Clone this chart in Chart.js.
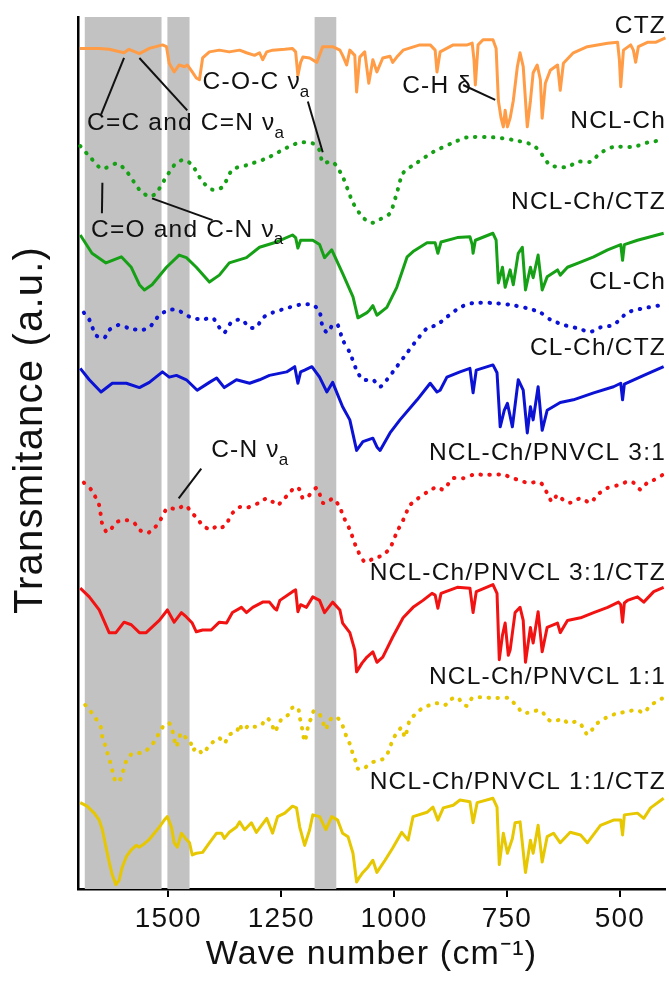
<!DOCTYPE html>
<html><head><meta charset="utf-8">
<script src="https://cdn.jsdelivr.net/npm/chart.js@4"></script>
<style>html,body{margin:0;padding:0;background:#fff}#wrap{width:669px;height:983px;position:relative}</style>
</head><body><div id="wrap"><canvas id="c"></canvas></div>
<script>
// ---------- data (wavenumber cm-1, transmittance a.u. with stacking offset) ----------
const xTicks = [500, 750, 1000, 1250, 1500];
const bands = [[1685, 1515], [1502, 1453], [1176, 1128]];

const CTZ = [[1696,96.4],[1653,96.4],[1631,96.3],[1598,95.9],[1587,96.3],[1564,95.8],[1542,96.4],[1513,96.8],[1504,96.6],[1498,94.7],[1487,93.7],[1476,94.5],[1464,94.3],[1458,94.5],[1447,93.7],[1438,93.0],[1431,92.8],[1424,95.3],[1409,96.0],[1387,96.2],[1365,96.0],[1342,96.2],[1327,95.9],[1309,95.6],[1298,95.9],[1291,95.1],[1282,96.0],[1269,96.2],[1242,96.3],[1225,96.4],[1218,96.0],[1213,93.3],[1207,94.8],[1202,95.4],[1187,95.3],[1171,94.8],[1158,96.6],[1136,96.6],[1120,96.2],[1114,95.6],[1105,94.5],[1098,96.2],[1087,95.6],[1083,91.4],[1076,95.4],[1065,96.0],[1056,92.4],[1047,95.1],[1038,93.7],[1025,95.3],[1009,95.5],[1003,94.8],[994,95.4],[980,96.2],[943,96.8],[920,96.8],[909,96.2],[905,93.7],[898,96.0],[869,96.8],[838,96.8],[827,97.0],[823,95.1],[820,92.2],[814,96.8],[803,97.4],[781,97.4],[774,96.4],[769,90.4],[763,88.4],[758,87.4],[754,89.3],[749,87.4],[743,88.4],[736,90.4],[727,94.3],[721,95.9],[714,94.3],[705,87.4],[698,90.4],[692,93.6],[683,94.5],[676,92.8],[672,88.4],[665,92.4],[654,93.9],[638,94.5],[632,91.6],[625,94.7],[603,95.9],[572,96.6],[527,97.0],[505,97.1],[501,95.1],[498,92.0],[492,96.2],[476,96.8],[470,96.2],[465,94.8],[459,96.6],[439,97.1],[421,97.1],[399,97.6]];

const NCL_Ch = [[1695,85.2],[1671,83.8],[1647,82.6],[1613,83.2],[1591,82.2],[1564,80.2],[1542,79.4],[1527,79.8],[1504,81.7],[1482,83.3],[1464,83.6],[1447,83.0],[1424,81.1],[1402,80.2],[1380,80.5],[1358,82.5],[1327,83.0],[1282,83.8],[1238,85.0],[1209,85.6],[1180,85.5],[1165,84.7],[1158,83.3],[1136,83.4],[1114,81.7],[1091,78.7],[1069,77.0],[1049,76.4],[1031,76.8],[1009,77.5],[994,79.8],[980,82.1],[949,83.3],[914,84.5],[869,85.6],[838,86.2],[781,86.2],[736,85.9],[692,85.3],[672,84.2],[654,83.0],[616,82.8],[594,83.4],[565,83.4],[543,84.4],[514,85.1],[470,85.1],[439,85.6],[403,85.9]];

const NCL_Ch_CTZ = [[1695,75.0],[1669,72.9],[1638,71.8],[1604,72.5],[1582,71.3],[1564,69.3],[1553,68.7],[1536,69.3],[1504,71.3],[1476,72.7],[1460,72.4],[1438,71.3],[1409,69.6],[1387,70.4],[1365,71.8],[1327,72.4],[1298,73.6],[1260,74.2],[1225,75.0],[1218,74.7],[1213,73.5],[1207,74.4],[1180,74.4],[1165,73.9],[1154,72.4],[1138,73.3],[1114,70.6],[1091,67.9],[1080,65.5],[1060,66.1],[1054,66.4],[1047,66.9],[1038,65.8],[1016,66.7],[994,69.0],[971,72.5],[958,73.1],[927,74.1],[909,74.1],[903,72.9],[896,74.2],[860,74.7],[832,74.8],[827,73.9],[825,72.9],[820,74.4],[781,75.2],[774,74.4],[769,69.5],[760,71.3],[754,69.0],[743,71.0],[736,69.3],[725,72.9],[716,73.6],[709,68.7],[698,71.3],[692,70.1],[681,72.7],[672,68.7],[661,70.2],[638,71.0],[632,70.4],[616,71.3],[587,71.9],[558,72.5],[527,73.3],[498,73.9],[494,72.1],[490,73.9],[461,74.4],[432,74.8],[403,75.2]];

const CL_Ch = [[1687,66.1],[1675,65.3],[1660,63.5],[1642,63.2],[1631,64.1],[1609,64.7],[1587,64.3],[1560,64.1],[1542,64.4],[1520,65.8],[1498,66.4],[1480,66.4],[1460,65.8],[1447,65.5],[1424,65.3],[1402,65.5],[1387,64.4],[1376,63.8],[1360,65.0],[1338,65.3],[1320,64.4],[1305,64.4],[1291,65.5],[1269,66.1],[1238,66.6],[1209,67.0],[1180,67.0],[1165,66.2],[1158,64.4],[1147,63.8],[1136,64.7],[1125,64.7],[1114,63.0],[1098,61.5],[1083,59.5],[1069,58.4],[1047,58.4],[1031,57.6],[1016,58.4],[994,59.9],[971,61.5],[949,63.0],[927,64.3],[905,64.7],[883,65.6],[854,66.7],[825,67.2],[781,67.2],[743,67.0],[705,66.6],[676,66.1],[654,65.3],[625,64.7],[594,64.3],[565,63.9],[543,64.4],[514,64.7],[483,66.1],[447,66.6],[403,67.0]];

const CL_Ch_CTZ = [[1695,59.7],[1675,58.4],[1649,57.0],[1624,58.0],[1593,58.0],[1564,57.5],[1542,58.1],[1513,59.3],[1498,58.7],[1482,58.9],[1460,58.4],[1436,57.2],[1409,58.1],[1393,58.6],[1376,57.5],[1349,58.4],[1320,58.0],[1298,58.4],[1276,58.9],[1238,59.3],[1220,59.9],[1213,58.0],[1207,59.3],[1198,59.5],[1182,59.9],[1165,58.7],[1149,57.0],[1136,58.1],[1114,55.3],[1098,53.8],[1083,50.3],[1069,51.3],[1047,51.7],[1038,50.7],[1031,50.3],[1009,52.3],[987,53.8],[949,56.1],[920,58.0],[905,57.0],[898,57.2],[883,58.7],[854,59.3],[832,59.7],[825,56.9],[818,59.5],[781,60.1],[772,59.2],[765,53.0],[756,54.9],[749,55.7],[738,53.0],[725,58.4],[714,57.2],[705,52.3],[698,55.3],[692,53.8],[681,57.6],[672,52.6],[661,54.9],[632,55.8],[603,56.1],[558,56.9],[514,57.6],[498,58.0],[494,56.1],[490,57.9],[447,58.9],[403,59.9]];

const PNVCL31 = [[1687,46.6],[1671,45.8],[1653,44.0],[1647,42.0],[1635,40.9],[1613,42.1],[1593,42.3],[1576,42.0],[1564,41.2],[1547,40.8],[1531,41.4],[1520,42.1],[1502,43.7],[1487,43.6],[1476,43.7],[1462,44.0],[1449,43.2],[1436,42.5],[1424,41.7],[1405,41.2],[1391,41.7],[1380,41.5],[1369,42.1],[1358,43.1],[1342,43.8],[1327,43.7],[1313,44.0],[1298,44.3],[1282,44.8],[1269,44.4],[1258,44.0],[1247,44.6],[1231,45.4],[1220,46.1],[1209,45.8],[1202,44.8],[1191,45.0],[1171,46.0],[1158,44.3],[1147,44.3],[1136,44.8],[1120,43.8],[1114,42.9],[1098,41.2],[1083,39.1],[1065,37.5],[1049,37.8],[1025,38.3],[1009,39.1],[994,40.9],[980,42.3],[965,44.0],[947,44.8],[927,45.5],[905,46.1],[891,45.8],[869,47.1],[847,47.1],[825,47.5],[794,47.5],[758,47.5],[736,47.1],[705,46.6],[676,46.6],[661,45.4],[650,44.4],[638,45.2],[625,44.6],[610,44.3],[587,44.8],[565,44.3],[550,45.2],[527,46.0],[505,46.3],[483,46.7],[470,46.6],[454,45.8],[439,46.6],[425,46.9],[405,47.5]];

const PNVCL31_CTZ = [[1695,34.5],[1675,33.5],[1653,32.0],[1631,29.4],[1616,29.4],[1598,30.6],[1582,30.3],[1564,29.4],[1549,29.4],[1520,30.8],[1502,32.0],[1487,30.6],[1471,31.7],[1460,31.2],[1447,30.5],[1438,29.5],[1424,29.7],[1405,29.7],[1387,30.6],[1371,30.5],[1358,31.7],[1338,32.3],[1327,31.7],[1313,32.3],[1291,32.9],[1276,32.9],[1265,32.2],[1260,32.0],[1253,33.1],[1225,34.1],[1218,34.3],[1213,31.8],[1207,32.6],[1194,32.3],[1180,33.5],[1165,33.1],[1154,31.7],[1136,32.9],[1120,32.0],[1114,30.5],[1098,29.4],[1087,27.4],[1083,24.9],[1071,25.9],[1060,26.6],[1047,27.2],[1038,26.0],[1025,26.6],[1003,28.9],[980,31.1],[958,32.3],[936,33.1],[916,33.9],[909,33.7],[903,32.2],[896,33.9],[860,34.6],[832,34.5],[825,31.7],[818,34.1],[781,34.9],[772,33.9],[767,26.3],[760,29.1],[754,30.5],[747,26.8],[743,27.4],[732,31.7],[721,32.3],[714,30.8],[709,26.0],[698,30.0],[692,28.2],[681,31.8],[672,27.2],[661,30.0],[638,30.5],[632,29.4],[616,30.8],[587,31.1],[558,31.7],[527,32.3],[503,32.9],[498,32.6],[494,30.6],[490,32.8],[483,33.1],[461,33.5],[447,32.9],[425,34.1],[403,34.6]];

const PNVCL11 = [[1684,21.1],[1671,20.3],[1660,19.5],[1649,18.5],[1646,17.4],[1640,16.5],[1635,15.6],[1629,14.6],[1624,13.6],[1620,12.7],[1611,12.2],[1602,13.1],[1598,14.0],[1591,14.9],[1578,15.6],[1558,15.6],[1542,16.2],[1531,16.9],[1520,17.9],[1509,18.8],[1498,19.0],[1491,18.2],[1487,17.2],[1482,16.3],[1478,17.0],[1471,17.9],[1462,17.4],[1451,16.9],[1447,15.9],[1436,16.2],[1424,15.5],[1413,16.2],[1400,16.9],[1387,17.3],[1376,16.7],[1365,17.7],[1349,18.0],[1342,18.9],[1336,18.2],[1320,18.8],[1309,18.6],[1294,18.8],[1282,19.6],[1271,19.0],[1265,18.0],[1258,18.6],[1249,19.5],[1234,20.0],[1225,20.8],[1213,20.8],[1209,19.7],[1205,18.8],[1202,17.9],[1198,16.9],[1194,17.7],[1189,19.0],[1182,19.7],[1178,20.4],[1167,20.2],[1158,19.2],[1151,18.3],[1145,19.2],[1131,19.8],[1118,19.2],[1111,18.3],[1105,17.4],[1096,16.4],[1091,15.4],[1083,14.4],[1080,13.8],[1067,13.8],[1054,14.4],[1038,14.7],[1025,14.9],[1013,15.7],[1003,17.1],[994,17.9],[983,18.5],[976,17.4],[965,19.4],[949,20.2],[936,20.8],[920,21.1],[905,21.3],[887,21.1],[876,21.7],[860,22.0],[849,21.3],[838,21.0],[827,21.9],[809,22.0],[781,21.9],[747,21.9],[736,21.4],[725,20.8],[716,20.2],[705,20.2],[694,20.3],[681,20.5],[670,20.2],[661,19.5],[647,19.2],[627,19.5],[614,19.0],[594,19.2],[581,18.5],[572,17.7],[561,18.3],[550,19.0],[532,19.6],[514,20.0],[498,20.2],[481,20.4],[461,20.5],[447,20.2],[432,21.1],[421,21.4],[405,21.9]];

const PNVCL11_CTZ = [[1695,9.9],[1680,9.5],[1664,8.7],[1653,7.9],[1646,6.8],[1638,4.8],[1631,3.1],[1624,1.6],[1616,0.5],[1609,1.0],[1602,2.5],[1593,3.7],[1582,4.5],[1571,5.0],[1564,4.8],[1553,5.2],[1542,5.7],[1531,6.4],[1520,7.1],[1509,7.9],[1502,8.3],[1493,7.1],[1487,5.3],[1480,4.8],[1471,6.4],[1462,5.8],[1453,5.3],[1447,3.9],[1438,4.1],[1424,4.2],[1409,5.3],[1393,6.4],[1382,6.4],[1376,5.8],[1365,6.5],[1349,7.1],[1342,7.7],[1331,6.8],[1316,7.6],[1305,6.5],[1282,8.1],[1269,6.4],[1258,8.3],[1242,8.7],[1225,9.5],[1216,9.3],[1209,7.1],[1198,5.0],[1187,6.8],[1180,8.5],[1165,8.3],[1151,6.8],[1138,8.3],[1125,7.9],[1114,6.4],[1102,6.0],[1091,4.1],[1083,0.8],[1076,1.4],[1069,1.9],[1058,2.5],[1047,3.3],[1038,1.9],[1020,3.3],[1003,4.7],[983,6.5],[969,5.6],[958,8.3],[927,8.8],[914,9.4],[903,7.9],[891,9.3],[869,9.6],[854,10.2],[832,10.0],[825,7.6],[816,9.9],[781,10.4],[772,9.4],[767,2.8],[758,6.4],[749,4.1],[738,5.8],[732,7.6],[721,7.7],[709,1.9],[698,5.6],[692,4.1],[681,7.3],[672,3.1],[661,6.0],[647,6.4],[632,5.3],[610,6.5],[587,6.2],[572,5.3],[543,7.3],[514,7.9],[498,7.9],[494,6.2],[490,8.5],[461,8.7],[447,8.1],[432,9.3],[403,10.4]];

const seriesNames = ['CTZ', 'NCL-Ch', 'NCL-Ch/CTZ', 'CL-Ch', 'CL-Ch/CTZ', 'NCL-Ch/PNVCL 3:1', 'NCL-Ch/PNVCL 3:1/CTZ', 'NCL-Ch/PNVCL 1:1', 'NCL-Ch/PNVCL 1:1/CTZ'];
const seriesData = [CTZ, NCL_Ch, NCL_Ch_CTZ, CL_Ch, CL_Ch_CTZ, PNVCL31, PNVCL31_CTZ, PNVCL11, PNVCL11_CTZ];
const labelLevels = [98.9, 88.0, 78.8, 69.6, 62.0, 50.0, 36.2, 24.3, 12.2];

// annotations: text, subscript, wavenumber of left edge, level
const notes = [
  ['C-H δ', '', 982, 92.1],
  ['C-O-C ν', 'a', 1424, 92.5],
  ['C=C and C=N ν', 'a', 1680, 87.8],
  ['C=O and C-N ν', 'a', 1671, 75.6],
  ['C-N ν', 'a', 1405, 50.3]
];
const leaders = [
  [1598, 95.3, 1649, 88.8],
  [1564, 95.3, 1458, 89.3],
  [1191, 90.3, 1158, 84.5],
  [847, 92.2, 776, 90.5],
  [1646, 81.0, 1647, 77.5],
  [1536, 79.2, 1402, 76.7],
  [1427, 48.2, 1477, 44.8]
];

// ---------- styling ----------
const FAM = "'Liberation Sans', Arial, sans-serif";
const colors = ['#ff9c45', '#16a016', '#16a016', '#0b12d4', '#0b12d4', '#f21212', '#f21212', '#e6c700', '#e6c700'];
const dotted = [false, true, false, true, false, true, false, true, false];
const SPACING = '1.2px';

const spacingPlugin = {
  id: 'spacing',
  beforeUpdate(chart) { chart.ctx.letterSpacing = SPACING; },
  beforeDraw(chart) { chart.ctx.letterSpacing = SPACING; }
};

const bandPlugin = {
  id: 'bands',
  beforeDatasetsDraw(chart) {
    const {ctx, chartArea: a, scales: {x}} = chart;
    ctx.save();
    ctx.fillStyle = '#c2c2c2';
    bands.forEach(b => {
      const p1 = x.getPixelForValue(b[0]), p2 = x.getPixelForValue(b[1]);
      ctx.fillRect(Math.min(p1, p2), a.top, Math.abs(p2 - p1), a.bottom - a.top);
    });
    ctx.restore();
  }
};

const textPlugin = {
  id: 'texts',
  afterDatasetsDraw(chart) {
    const {ctx, scales: {x, y}} = chart;
    ctx.save();
    ctx.letterSpacing = SPACING;
    ctx.fillStyle = '#111';
    ctx.font = '24.5px ' + FAM;
    ctx.textBaseline = 'middle';
    ctx.textAlign = 'right';
    seriesNames.forEach((n, i) => ctx.fillText(n, x.getPixelForValue(400) + 1, y.getPixelForValue(labelLevels[i])));
    ctx.textAlign = 'left';
    notes.forEach(nt => {
      const px = x.getPixelForValue(nt[2]), py = y.getPixelForValue(nt[3]);
      ctx.font = '24.5px ' + FAM;
      ctx.textBaseline = 'middle';
      ctx.fillText(nt[0], px, py);
      if (nt[1]) {
        const w = ctx.measureText(nt[0]).width;
        ctx.font = '17px ' + FAM;
        ctx.textBaseline = 'alphabetic';
        ctx.fillText(nt[1], px + w - 1, py + 14.5);
      }
    });
    ctx.strokeStyle = '#111';
    ctx.lineWidth = 2;
    leaders.forEach(l => {
      ctx.beginPath();
      ctx.moveTo(x.getPixelForValue(l[0]), y.getPixelForValue(l[1]));
      ctx.lineTo(x.getPixelForValue(l[2]), y.getPixelForValue(l[3]));
      ctx.stroke();
    });
    // y-axis title
    ctx.font = '40px ' + FAM;
    ctx.textAlign = 'center';
    ctx.textBaseline = 'middle';
    ctx.translate(31, 430);
    ctx.rotate(-Math.PI / 2);
    ctx.fillText('Transmitance (a.u.)', 0, 0);
    ctx.restore();
  }
};

new Chart(document.getElementById('c'), {
  type: 'scatter',
  data: {
    datasets: seriesData.map((d, i) => ({
      label: seriesNames[i],
      data: d.map(p => ({x: p[0], y: p[1]})),
      showLine: true,
      borderColor: colors[i],
      backgroundColor: colors[i],
      borderWidth: dotted[i] ? 4 : 3,
      borderDash: dotted[i] ? [0.5, 8.5] : [],
      borderCapStyle: dotted[i] ? 'round' : 'butt',
      borderJoinStyle: 'round',
      tension: dotted[i] ? 0.25 : 0,
      pointRadius: 0,
      pointHoverRadius: 0,
      fill: false,
      clip: 2
    }))
  },
  options: {
    responsive: true,
    maintainAspectRatio: false,
    animation: false,
    events: [],
    layout: {padding: {top: 17, right: 4, left: 0, bottom: 0}},
    plugins: {legend: {display: false}, tooltip: {enabled: false}},
    scales: {
      x: {
        type: 'linear', reverse: true, min: 400, max: 1700,
        afterBuildTicks: sc => { sc.ticks = xTicks.map(v => ({value: v})); },
        afterFit: sc => { sc.height = 94; },
        ticks: {autoSkip: false, maxRotation: 0, minRotation: 0, padding: 5, color: '#111',
                font: {family: FAM, size: 28}, callback: v => String(v)},
        grid: {display: true, drawOnChartArea: false, drawTicks: true, tickLength: 8, color: '#000', lineWidth: 2},
        border: {display: true, color: '#000', width: 2.5},
        title: {display: true, text: 'Wave number (cm⁻¹)', color: '#111',
                font: {family: FAM, size: 34}, padding: {top: 0, bottom: 8}}
      },
      y: {
        type: 'linear', min: 0, max: 100,
        afterFit: sc => { sc.width = 78; },
        ticks: {display: false},
        grid: {display: true, drawOnChartArea: false, drawTicks: false, color: '#000', lineWidth: 2},
        border: {display: true, color: '#000', width: 2.5},
        title: {display: false}
      }
    }
  },
  plugins: [spacingPlugin, bandPlugin, textPlugin]
});
</script>
</body></html>
